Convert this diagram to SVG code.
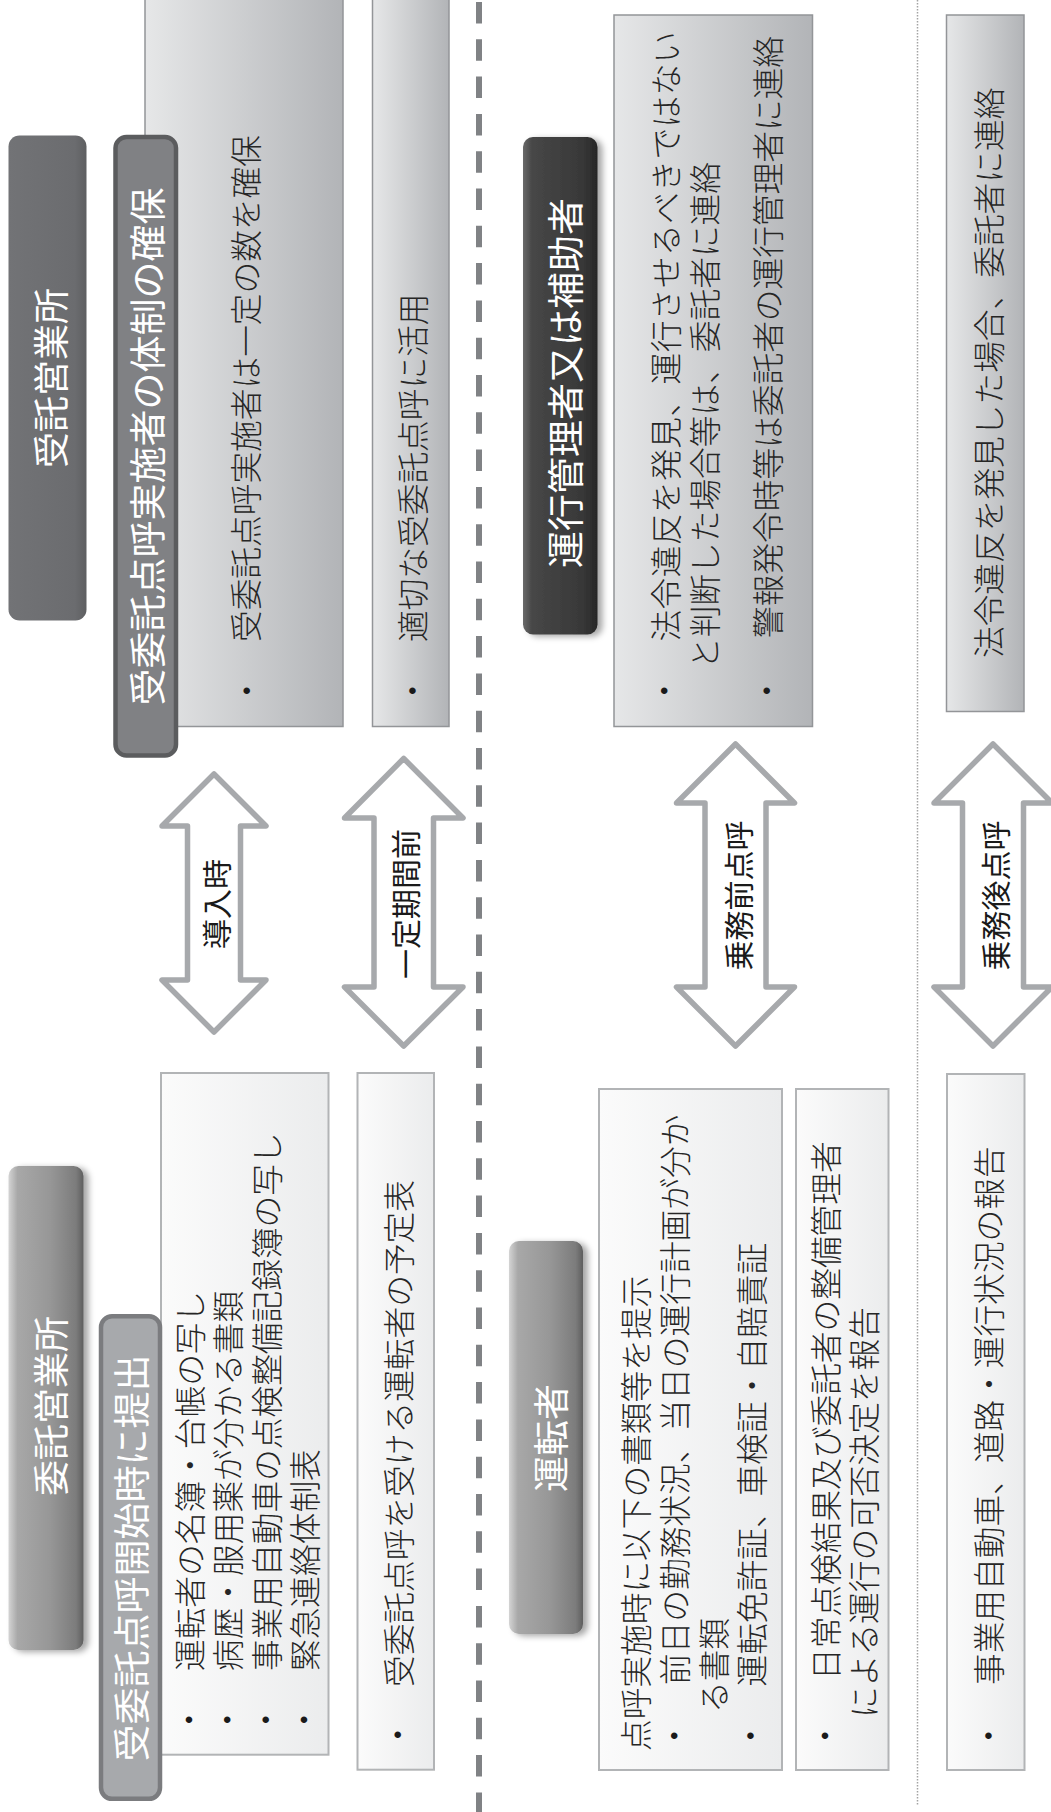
<svg xmlns="http://www.w3.org/2000/svg" width="1051" height="1812" viewBox="0 0 1051 1812">
<style>
.body{font-family:"Noto Sans CJK JP","Noto Sans CJK SC",sans-serif;font-size:31.7px;font-weight:300;fill:#262626;dominant-baseline:central}
.title{font-family:"Noto Sans CJK JP","Noto Sans CJK SC",sans-serif;fill:#ffffff;text-anchor:middle;dominant-baseline:central}
.alabel{font-family:"Noto Sans CJK JP","Noto Sans CJK SC",sans-serif;font-size:30px;fill:#1a1a1a;text-anchor:middle;dominant-baseline:central}
.bullet{font-family:"Liberation Sans",sans-serif;font-size:24px;fill:#1a1a1a;text-anchor:middle;dominant-baseline:central}
.topbox{fill:url(#gTop);stroke:#939598;stroke-width:1.5}
.botbox{fill:url(#gBot);stroke:#b2b4b6;stroke-width:2}
.arrow{fill:#ffffff;stroke:#a7a9ac;stroke-width:5.5;stroke-linejoin:round}
</style>
<defs>
<linearGradient id="gTop" x1="0" y1="0" x2="1" y2="0">
<stop offset="0" stop-color="#e6e7e8"/><stop offset="1" stop-color="#b2b4b7"/>
</linearGradient>
<linearGradient id="gBot" x1="0" y1="0" x2="1" y2="0">
<stop offset="0" stop-color="#fbfbfb"/><stop offset="1" stop-color="#ebeced"/>
</linearGradient>
<linearGradient id="gDark" x1="0" y1="0" x2="1" y2="0">
<stop offset="0" stop-color="#727376"/><stop offset="0.85" stop-color="#6b6c6f"/><stop offset="1" stop-color="#5e5f61"/>
</linearGradient>
<linearGradient id="gKanri" x1="0" y1="0" x2="1" y2="0">
<stop offset="0" stop-color="#6a6a6a"/><stop offset="0.12" stop-color="#474747"/><stop offset="0.8" stop-color="#383838"/><stop offset="1" stop-color="#262626"/>
</linearGradient>
<linearGradient id="g3d" x1="0" y1="0" x2="1" y2="0">
<stop offset="0" stop-color="#d4d4d4"/><stop offset="0.12" stop-color="#a8a8a8"/><stop offset="0.55" stop-color="#979797"/><stop offset="0.9" stop-color="#7c7c7c"/><stop offset="1" stop-color="#5e5e5e"/>
</linearGradient>
<filter id="sh" x="-20%" y="-5%" width="150%" height="115%">
<feDropShadow dx="5" dy="2" stdDeviation="3" flood-color="#000000" flood-opacity="0.35"/>
</filter>
</defs>

<g id="separators">
<line x1="479" y1="2" x2="479" y2="1812" stroke="#808285" stroke-width="6" stroke-dasharray="21.5 15.8"/>
<line x1="917.5" y1="0" x2="917.5" y2="1806" stroke="#a3a3a3" stroke-width="1.5" stroke-dasharray="1.5 1.5"/>
</g>

<g id="node-jutaku-top">
<rect x="8.5" y="135.5" width="78" height="485" rx="11" fill="url(#gDark)"/>
<text class="title" font-size="36" transform="translate(48.7,378) rotate(-90)">受託営業所</text>
</g>

<g id="node-kakuho-box">
<rect class="topbox" x="145" y="-3" width="198" height="729.5"/>
<text class="bullet" x="246.7" y="690.5">•</text>
<text class="body" transform="translate(244,642) rotate(-90)">受委託点呼実施者は一定の数を確保</text>
</g>

<g id="node-katsuyo-box">
<rect class="topbox" x="372.5" y="-3" width="76.5" height="729.5"/>
<text class="bullet" x="412.5" y="690.5">•</text>
<text class="body" transform="translate(411,642) rotate(-90)">適切な受委託点呼に活用</text>
</g>

<g id="node-taisei">
<rect x="115.5" y="137" width="60.5" height="618.5" rx="11" fill="#808184" stroke="#5b5c5e" stroke-width="4.5"/>
<text class="title" font-size="37" transform="translate(145.5,446.5) rotate(-90)">受委託点呼実施者の体制の確保</text>
</g>

<g id="node-kanri">
<rect x="523" y="137" width="74.5" height="497.5" rx="10" fill="url(#gKanri)" filter="url(#sh)"/>
<text class="title" font-size="37" transform="translate(563.5,383) rotate(-90)">運行管理者又は補助者</text>
</g>

<g id="node-kanri-box">
<rect class="topbox" x="614" y="15" width="198.5" height="711.5"/>
<text class="bullet" x="664.3" y="690.9">•</text>
<text class="body" transform="translate(663.5,641.5) rotate(-90)" textLength="610" lengthAdjust="spacing">法令違反を発見、運行させるべきではない</text>
<text class="body" transform="translate(703,669) rotate(-90)">と判断した場合等は、委託者に連絡</text>
<text class="bullet" x="766.6" y="690.9">•</text>
<text class="body" transform="translate(766,638) rotate(-90)">警報発令時等は委託者の運行管理者に連絡</text>
</g>

<g id="node-kanri-box2">
<rect class="topbox" x="946.5" y="15" width="77.5" height="696.5"/>
<text class="body" transform="translate(986.5,658) rotate(-90)">法令違反を発見した場合、委託者に連絡</text>
</g>

<g id="node-itaku-bottom">
<rect x="8.5" y="1166" width="75" height="484" rx="10" fill="url(#g3d)" filter="url(#sh)"/>
<text class="title" font-size="36" transform="translate(48.5,1406) rotate(-90)">委託営業所</text>
</g>

<g id="node-teishutsu-box">
<rect class="botbox" x="161" y="1073" width="167.5" height="681.7"/>
<text class="bullet" x="189" y="1719.3">•</text>
<text class="body" transform="translate(187.5,1671) rotate(-90)">運転者の名簿・台帳の写し</text>
<text class="bullet" x="227.3" y="1719.3">•</text>
<text class="body" transform="translate(226,1671) rotate(-90)">病歴・服用薬が分かる書類</text>
<text class="bullet" x="265.7" y="1719.3">•</text>
<text class="body" transform="translate(264.5,1671) rotate(-90)">事業用自動車の点検整備記録簿の写し</text>
<text class="bullet" x="304" y="1719.3">•</text>
<text class="body" transform="translate(302.5,1671) rotate(-90)">緊急連絡体制表</text>
</g>

<g id="node-yotei-box">
<rect class="botbox" x="357.5" y="1073" width="76.5" height="696.7"/>
<text class="bullet" x="397.7" y="1734.7">•</text>
<text class="body" transform="translate(396.5,1687) rotate(-90)">受委託点呼を受ける運転者の予定表</text>
</g>

<g id="node-teishutsu">
<rect x="101" y="1316.3" width="59" height="482.5" rx="11" fill="#a7a9ac" stroke="#7b7c7f" stroke-width="4.5"/>
<text class="title" font-size="37" transform="translate(129.5,1558) rotate(-90)">受委託点呼開始時に提出</text>
</g>

<g id="node-untensha">
<rect x="509" y="1241" width="74" height="393" rx="10" fill="url(#g3d)" filter="url(#sh)"/>
<text class="title" font-size="36" transform="translate(549,1438) rotate(-90)">運転者</text>
</g>

<g id="node-untensha-box">
<rect class="botbox" x="599" y="1089" width="183" height="681"/>
<text class="body" transform="translate(633.7,1751) rotate(-90)">点呼実施時に以下の書類等を提示</text>
<text class="bullet" x="674.2" y="1735.5">•</text>
<text class="body" transform="translate(673,1685) rotate(-90)">前日の勤務状況、当日の運行計画が分か</text>
<text class="body" transform="translate(711.5,1713) rotate(-90)">る書類</text>
<text class="bullet" x="750.5" y="1735.5">•</text>
<text class="body" transform="translate(749.8,1686.5) rotate(-90)">運転免許証、車検証・自賠責証</text>
</g>

<g id="node-tenken-box">
<rect class="botbox" x="796" y="1089" width="92.5" height="681"/>
<text class="bullet" x="825" y="1735.5">•</text>
<text class="body" transform="translate(823.5,1680) rotate(-90)">日常点検結果及び委託者の整備管理者</text>
<text class="body" transform="translate(861.8,1718) rotate(-90)">による運行の可否決定を報告</text>
</g>

<g id="node-hokoku-box">
<rect class="botbox" x="947" y="1074" width="77.5" height="696"/>
<text class="bullet" x="988.5" y="1735.5">•</text>
<text class="body" transform="translate(986.5,1685) rotate(-90)">事業用自動車、道路・運行状況の報告</text>
</g>

<g id="connectors">
<g id="arrow-donyu">
<polygon class="arrow" points="214,774 266,826 240.5,826 240.5,980 266,980 214,1032 162,980 187.5,980 187.5,826 162,826"/>
<text class="alabel" transform="translate(215,904) rotate(-90)">導入時</text>
</g>
<g id="arrow-itteikikan">
<polygon class="arrow" points="403.7,758.5 463,818 433.5,818 433.5,987 463,987 403.7,1046 344.5,987 374,987 374,818 344.5,818"/>
<text class="alabel" transform="translate(404,904) rotate(-90)">一定期間前</text>
</g>
<g id="arrow-jomuzen">
<polygon class="arrow" points="735.5,744 794.5,803 766,803 766,987 794.5,987 735.5,1046 676.5,987 705,987 705,803 676.5,803"/>
<text class="alabel" transform="translate(736.5,895.5) rotate(-90)">乗務前点呼</text>
</g>
<g id="arrow-jomugo">
<polygon class="arrow" points="993,744 1052,803 1023.5,803 1023.5,987 1052,987 993,1046 934,987 962.5,987 962.5,803 934,803"/>
<text class="alabel" transform="translate(993.5,895.5) rotate(-90)">乗務後点呼</text>
</g>
</g>
</svg>
